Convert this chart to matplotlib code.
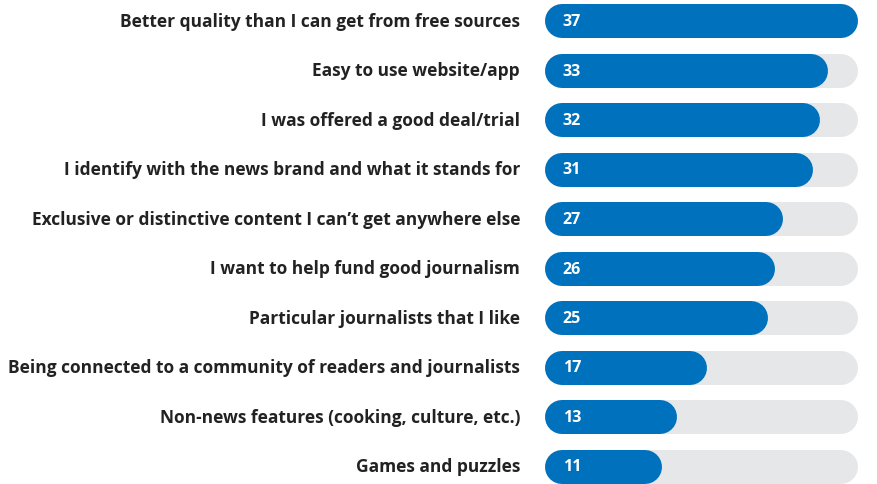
import matplotlib.pyplot as plt

# Reasons for paying for online news
reasons = [
    "Better quality than I can get from free sources",
    "Easy to use website/app",
    "I was offered a good deal/trial",
    "I identify with the news brand and what it stands for",
    "Exclusive or distinctive content I can\u2019t get anywhere else",
    "I want to help fund good journalism",
    "Particular journalists that I like",
    "Being connected to a community of readers and journalists",
    "Non-news features (cooking, culture, etc.)",
    "Games and puzzles",
]
values = [37, 33, 32, 31, 27, 26, 25, 17, 13, 11]
track_max = 37

blue = "#0071BC"
grey = "#E6E7E9"
text_col = "#222222"

fig = plt.figure(figsize=(8.78, 4.85), dpi=100)
ax = fig.add_axes([0, 0, 1, 1])

# 1 unit ~ 7.545 px, zero at 562 px
px = 7.545
x0 = 562
ax.set_xlim(-x0 / px, (878 - x0) / px)
ax.set_ylim((485 - 22) / 49.5, -22 / 49.5)
ax.axis("off")

lw = 34 * 72 / 100  # bar thickness in points
for i, (lab, v) in enumerate(zip(reasons, values)):
    ax.plot([0, track_max], [i, i], color=grey, lw=lw, solid_capstyle="round")
    ax.plot([0, v], [i, i], color=blue, lw=lw, solid_capstyle="round")
    ax.text(0.1, i, str(v), color="white", fontsize=11.5, fontweight="bold",
            family="Open Sans", ha="left", va="center")
    ax.text(-42 / px, i, lab, color=text_col, fontsize=12.5, fontweight="bold",
            family="Open Sans", ha="right", va="center")

fig.savefig("out.png", dpi=100)
